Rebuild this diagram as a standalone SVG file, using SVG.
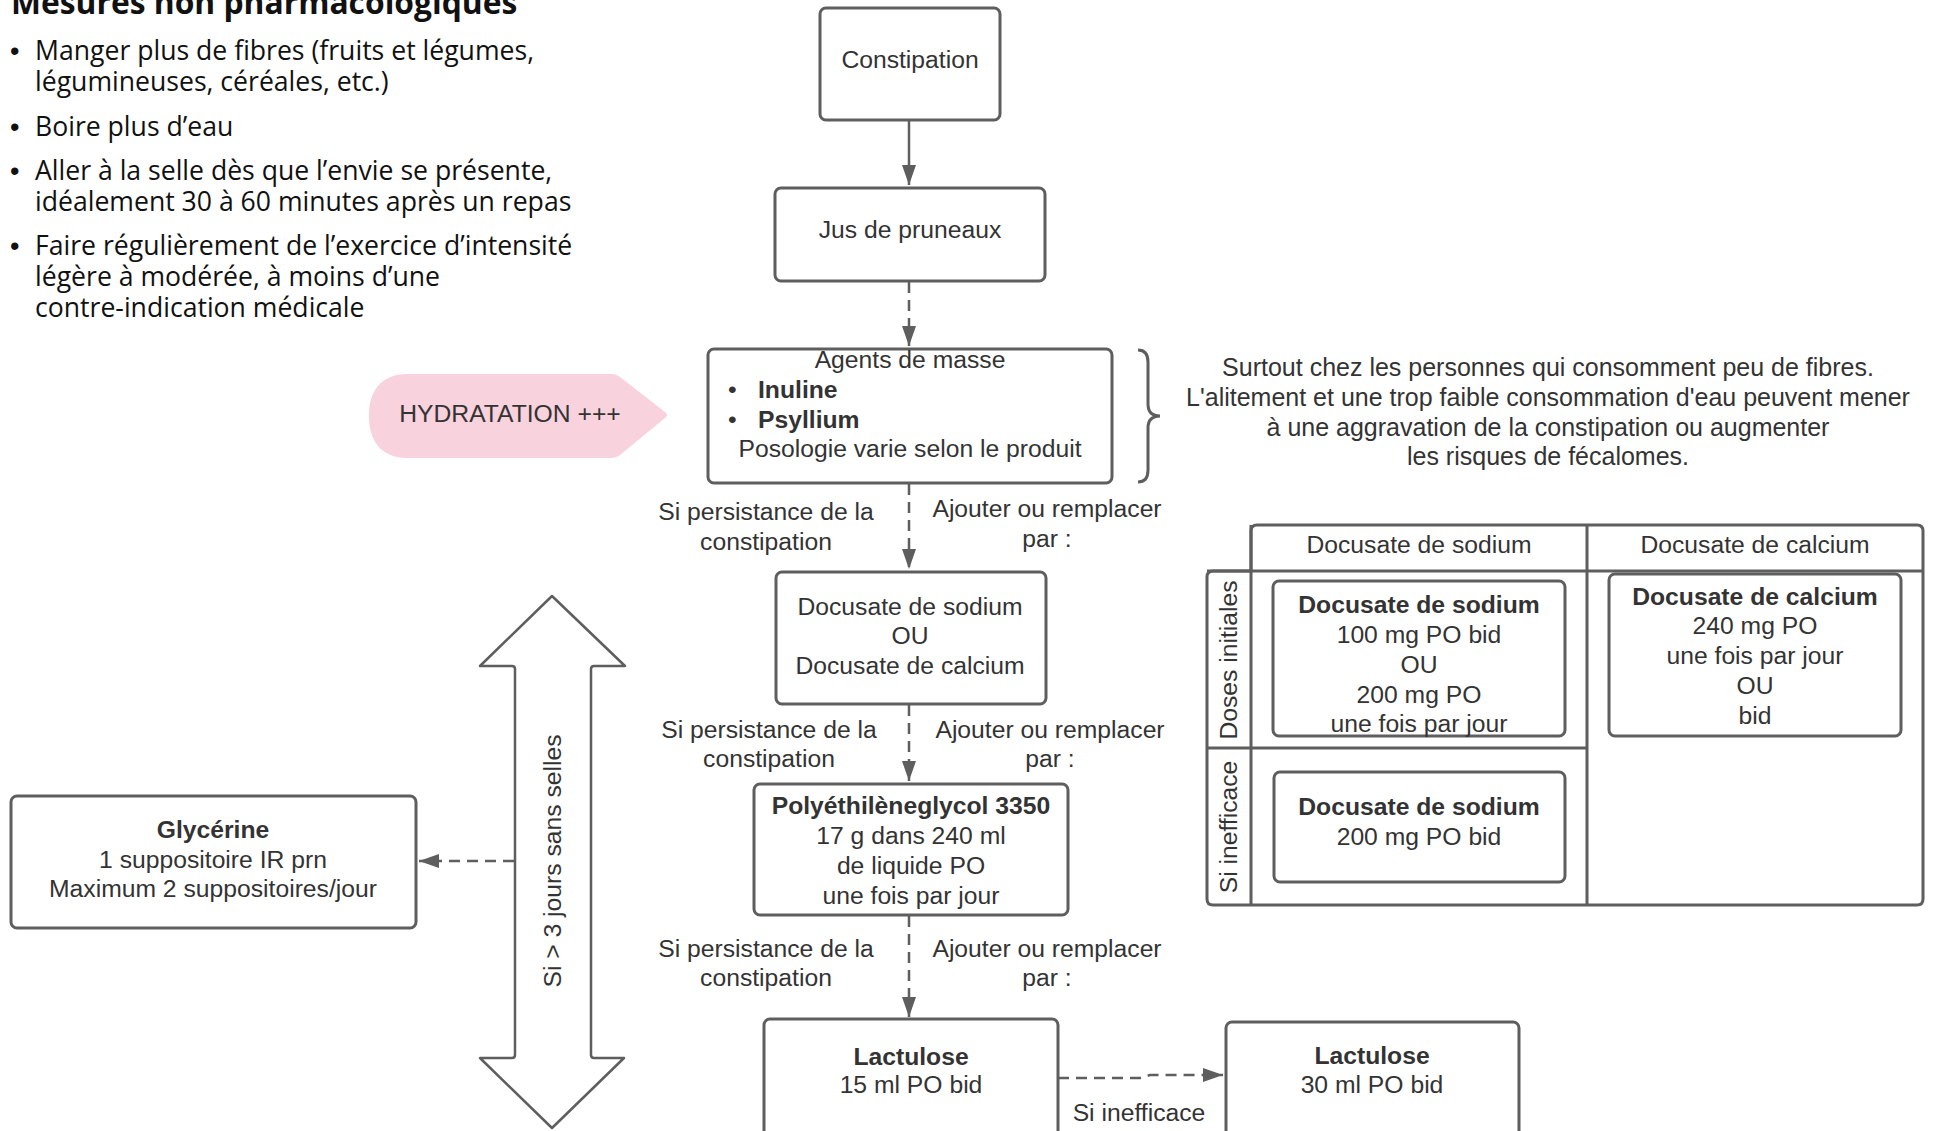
<svg xmlns="http://www.w3.org/2000/svg" width="1935" height="1131" viewBox="0 0 1935 1131">
<style>
.t{font-family:"Liberation Sans",Arial,sans-serif;font-size:24.7px;fill:#333333}
.c{text-anchor:middle}
.b{font-weight:bold}
.o{font-family:"Open Sans","Noto Sans",sans-serif;font-size:26.6px;fill:#111111}
.bu{font-family:"Liberation Sans",Arial,sans-serif;font-size:27px;fill:#111111}
.box{fill:#ffffff;stroke:#5e5e5e;stroke-width:3}
.ln{fill:none;stroke:#5e5e5e;stroke-width:3}
.con{fill:none;stroke:#5e5e5e;stroke-width:2.5}
.dash{stroke-dasharray:11 7}
</style>
<defs>
<marker id="ah" markerUnits="userSpaceOnUse" markerWidth="22" markerHeight="16" refX="20" refY="7" orient="auto">
<path d="M0,0 L20,7 L0,14 Z" fill="#5e5e5e"/>
</marker>
</defs>
<rect width="1935" height="1131" fill="#ffffff"/>

<g id="mesures">
<text class="o b" x="11" y="14" style="font-size:31.8px">Mesures non pharmacologiques</text>
<text class="bu" x="10" y="60">•</text><text class="o" x="35" y="60">Manger plus de fibres (fruits et légumes,</text>
<text class="o" x="35" y="91">légumineuses, céréales, etc.)</text>
<text class="bu" x="10" y="136">•</text><text class="o" x="35" y="136">Boire plus d’eau</text>
<text class="bu" x="10" y="180">•</text><text class="o" x="35" y="180">Aller à la selle dès que l’envie se présente,</text>
<text class="o" x="35" y="211">idéalement 30 à 60 minutes après un repas</text>
<text class="bu" x="10" y="255">•</text><text class="o" x="35" y="255">Faire régulièrement de l’exercice d’intensité</text>
<text class="o" x="35" y="286">légère à modérée, à moins d’une</text>
<text class="o" x="35" y="317">contre-indication médicale</text>
</g>

<g id="connectors">
<line class="con" x1="909" y1="121" x2="909" y2="185" marker-end="url(#ah)"/>
<line class="con dash" x1="909" y1="282" x2="909" y2="346" marker-end="url(#ah)"/>
<line class="con dash" x1="909" y1="484" x2="909" y2="569" marker-end="url(#ah)"/>
<line class="con dash" x1="909" y1="705" x2="909" y2="781" marker-end="url(#ah)"/>
<line class="con dash" x1="909" y1="916" x2="909" y2="1017" marker-end="url(#ah)"/>
<line class="con dash" x1="514" y1="861" x2="419" y2="861" marker-end="url(#ah)"/>
<path class="con dash" d="M1058,1078 L1140,1078 L1150,1075 L1223,1075" marker-end="url(#ah)"/>
</g>

<g id="labels">
<text class="t c" x="766" y="520">Si persistance de la</text>
<text class="t c" x="766" y="550">constipation</text>
<text class="t c" x="1047" y="517">Ajouter ou remplacer</text>
<text class="t c" x="1047" y="547">par :</text>
<text class="t c" x="769" y="738">Si persistance de la</text>
<text class="t c" x="769" y="767">constipation</text>
<text class="t c" x="1050" y="738">Ajouter ou remplacer</text>
<text class="t c" x="1050" y="767">par :</text>
<text class="t c" x="766" y="957">Si persistance de la</text>
<text class="t c" x="766" y="986">constipation</text>
<text class="t c" x="1047" y="957">Ajouter ou remplacer</text>
<text class="t c" x="1047" y="986">par :</text>
<text class="t c" x="1139" y="1121">Si inefficace</text>
</g>

<g id="constipation">
<rect class="box" x="820" y="8" width="180" height="112" rx="6"/>
<text class="t c" x="910" y="68">Constipation</text>
</g>

<g id="jus">
<rect class="box" x="775" y="188" width="270" height="93" rx="6"/>
<text class="t c" x="910" y="238">Jus de pruneaux</text>
</g>

<g id="agents">
<rect class="box" x="708" y="349" width="404" height="134" rx="6"/>
<text class="t c" x="910" y="368">Agents de masse</text>
<text class="t" x="728" y="398">•</text><text class="t b" x="758" y="398">Inuline</text>
<text class="t" x="728" y="428">•</text><text class="t b" x="758" y="428">Psyllium</text>
<text class="t c" x="910" y="457">Posologie varie selon le produit</text>
</g>

<g id="brace">
<path class="ln" d="M1138,350 Q1148,350 1148,362 L1148,404 Q1148,416 1160,416 Q1148,416 1148,428 L1148,470 Q1148,482 1138,482"/>
</g>

<g id="note">
<text class="t c" x="1548" y="376" style="font-size:25px">Surtout chez les personnes qui consomment peu de fibres.</text>
<text class="t c" x="1548" y="406" style="font-size:25px">L'alitement et une trop faible consommation d'eau peuvent mener</text>
<text class="t c" x="1548" y="436" style="font-size:25px">à une aggravation de la constipation ou augmenter</text>
<text class="t c" x="1548" y="465" style="font-size:25px">les risques de fécalomes.</text>
</g>

<g id="hydratation">
<path d="M408,374 L612,374 Q616,374 620,377 L665,412 Q669,415 665,418 L620,455 Q616,458 612,458 L408,458 C380,458 369,440 369,416 C369,392 380,374 408,374 Z" fill="#f8d2dc"/>
<text class="t c" x="510" y="422">HYDRATATION +++</text>
</g>

<g id="docusate">
<rect class="box" x="776" y="572" width="270" height="132" rx="6"/>
<text class="t c" x="910" y="615">Docusate de sodium</text>
<text class="t c" x="910" y="644">OU</text>
<text class="t c" x="910" y="674">Docusate de calcium</text>
</g>

<g id="peg">
<rect class="box" x="754" y="784" width="314" height="131" rx="6"/>
<text class="t c b" x="911" y="814">Polyéthilèneglycol 3350</text>
<text class="t c" x="911" y="844">17 g dans 240 ml</text>
<text class="t c" x="911" y="874">de liquide PO</text>
<text class="t c" x="911" y="904">une fois par jour</text>
</g>

<g id="lactulose1">
<rect class="box" x="764" y="1019" width="294" height="140" rx="6"/>
<text class="t c b" x="911" y="1065">Lactulose</text>
<text class="t c" x="911" y="1093">15 ml PO bid</text>
</g>

<g id="lactulose2">
<rect class="box" x="1226" y="1022" width="293" height="140" rx="6"/>
<text class="t c b" x="1372" y="1064">Lactulose</text>
<text class="t c" x="1372" y="1093">30 ml PO bid</text>
</g>

<g id="glycerine">
<rect class="box" x="11" y="796" width="405" height="132" rx="6"/>
<text class="t c b" x="213" y="838">Glycérine</text>
<text class="t c" x="213" y="868">1 suppositoire IR prn</text>
<text class="t c" x="213" y="897">Maximum 2 suppositoires/jour</text>
</g>

<g id="double-arrow">
<path d="M552,596 L625,666 L594,666 Q591,666 591,669 L591,1055 Q591,1058 594,1058 L624,1058 L552,1128 L480,1058 L512,1058 Q515,1058 515,1055 L515,669 Q515,666 512,666 L480,666 Z" fill="#ffffff" stroke="#5e5e5e" stroke-width="2.5" stroke-linejoin="round"/>
<text class="t c" transform="translate(561,861) rotate(-90)">Si &gt; 3 jours sans selles</text>
</g>

<g id="table">
<path class="ln" d="M1251,571 L1251,531 Q1251,525 1257,525 L1917,525 Q1923,525 1923,531 L1923,899 Q1923,905 1917,905 L1213,905 Q1207,905 1207,899 L1207,577 Q1207,571 1213,571 Z"/>
<line class="ln" x1="1207" y1="571" x2="1923" y2="571"/>
<line class="ln" x1="1251" y1="525" x2="1251" y2="905"/>
<line class="ln" x1="1587" y1="525" x2="1587" y2="905"/>
<line class="ln" x1="1207" y1="748" x2="1587" y2="748"/>
<text class="t c" x="1419" y="553">Docusate de sodium</text>
<text class="t c" x="1755" y="553">Docusate de calcium</text>
<text class="t c" transform="translate(1237,660) rotate(-90)">Doses initiales</text>
<text class="t c" transform="translate(1237,827) rotate(-90)">Si inefficace</text>
</g>

<g id="sodium-initial">
<rect class="box" x="1273" y="581" width="292" height="155" rx="6"/>
<text class="t c b" x="1419" y="613">Docusate de sodium</text>
<text class="t c" x="1419" y="643">100 mg PO bid</text>
<text class="t c" x="1419" y="673">OU</text>
<text class="t c" x="1419" y="703">200 mg PO</text>
<text class="t c" x="1419" y="732">une fois par jour</text>
</g>

<g id="calcium-initial">
<rect class="box" x="1609" y="574" width="292" height="162" rx="6"/>
<text class="t c b" x="1755" y="605">Docusate de calcium</text>
<text class="t c" x="1755" y="634">240 mg PO</text>
<text class="t c" x="1755" y="664">une fois par jour</text>
<text class="t c" x="1755" y="694">OU</text>
<text class="t c" x="1755" y="724">bid</text>
</g>

<g id="sodium-inefficace">
<rect class="box" x="1274" y="772" width="291" height="110" rx="6"/>
<text class="t c b" x="1419" y="815">Docusate de sodium</text>
<text class="t c" x="1419" y="845">200 mg PO bid</text>
</g>
</svg>
